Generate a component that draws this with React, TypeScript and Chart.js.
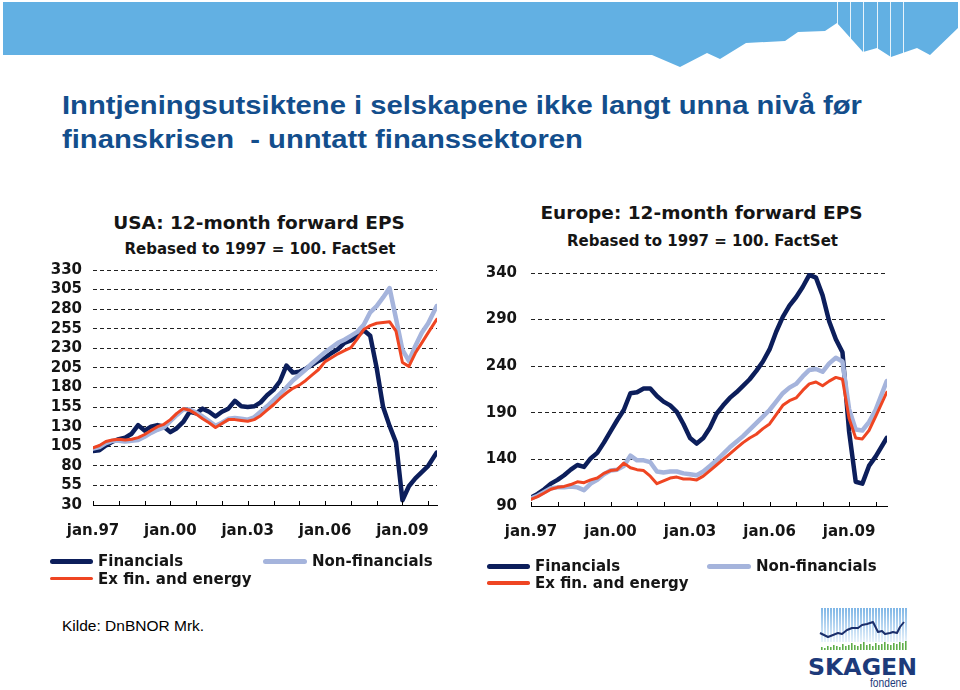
import React, { useEffect, useRef } from 'react';
import { Chart, registerables } from 'chart.js';

Chart.register(...registerables);

// ---------- DATA ----------
const DATES_US = [1997, 1997.25, 1997.5, 1997.75, 1998, 1998.25, 1998.5, 1998.75, 1999, 1999.25, 1999.5, 1999.75, 2000, 2000.25, 2000.5, 2000.75, 2001, 2001.25, 2001.5, 2001.75, 2002, 2002.25, 2002.5, 2002.75, 2003, 2003.25, 2003.5, 2003.75, 2004, 2004.25, 2004.5, 2004.75, 2005, 2005.25, 2005.5, 2005.75, 2006, 2006.25, 2006.5, 2006.75, 2007, 2007.25, 2007.5, 2007.75, 2008, 2008.25, 2008.5, 2008.75, 2009, 2009.25, 2009.5, 2009.75, 2010, 2010.33];
const DATES_EU = [1997, 1997.25, 1997.5, 1997.75, 1998, 1998.25, 1998.5, 1998.75, 1999, 1999.25, 1999.5, 1999.75, 2000, 2000.25, 2000.5, 2000.75, 2001, 2001.25, 2001.5, 2001.75, 2002, 2002.25, 2002.5, 2002.75, 2003, 2003.25, 2003.5, 2003.75, 2004, 2004.25, 2004.5, 2004.75, 2005, 2005.25, 2005.5, 2005.75, 2006, 2006.25, 2006.5, 2006.75, 2007, 2007.25, 2007.5, 2007.75, 2008, 2008.25, 2008.5, 2008.75, 2009, 2009.25, 2009.5, 2009.75, 2010, 2010.42];

const US_FIN = [
  99, 100, 106, 111,
  114, 116, 121, 132,
  125, 130, 132, 130,
  123, 128, 136, 149,
  147, 153, 149, 143,
  149, 153, 163, 156,
  155, 156, 161, 170,
  177, 188, 208, 199,
  200, 204, 209, 214,
  218, 224, 229, 237,
  240, 246, 253, 246,
  205, 155, 131, 110,
  36, 54, 64, 72,
  80, 97,
];
const US_NONFIN = [
  102, 104, 109, 112,
  112, 111, 112, 113,
  117, 122, 126, 129,
  137, 145, 152, 152,
  148, 143, 137, 131,
  135, 140, 141, 140,
  139, 142, 149, 156,
  164, 172, 180, 189,
  196, 203, 211, 218,
  225, 231, 237, 241,
  246, 251, 260, 276,
  284, 295, 307, 268,
  228, 214, 233, 250,
  262, 284,
];
const US_EXFIN = [
  103, 106, 111, 113,
  114, 113, 114, 116,
  120, 125, 130, 133,
  139, 147, 153, 151,
  146, 140, 135, 129,
  134, 139, 139, 138,
  137, 139, 144, 151,
  158, 166, 173, 179,
  183, 189, 196, 203,
  213, 218, 223, 227,
  231, 242, 254, 259,
  262, 263, 264, 252,
  212, 207, 224, 237,
  250, 267,
];

const EU_FIN = [
  99, 103, 108, 114,
  118, 123, 129, 134,
  132, 141, 147, 158,
  170, 182, 193, 211,
  212, 216, 216, 208,
  202, 198, 191, 178,
  163, 157, 163, 174,
  189, 198, 206, 212,
  219, 226, 235, 245,
  258, 277, 293, 305,
  314, 325, 338, 335,
  316, 288, 269, 255,
  170, 116, 114, 133,
  143, 163,
];
const EU_NONFIN = [
  98, 101, 105, 109,
  110, 110, 111, 110,
  107, 114, 118, 124,
  128, 129, 133, 144,
  139, 139, 137, 127,
  126, 127, 127, 125,
  124, 123, 127, 133,
  139, 146, 153, 159,
  165, 172, 179, 186,
  193, 202, 211, 217,
  221, 229, 236, 237,
  234, 243, 249, 245,
  194, 172, 171, 180,
  193, 224,
];
const EU_EXFIN = [
  97, 100, 104, 108,
  110, 111, 113, 116,
  115, 118, 120, 125,
  128, 129, 136, 131,
  129, 128, 122, 114,
  117, 120, 121, 119,
  119, 118, 122, 128,
  134, 140, 146, 152,
  158, 163, 167, 173,
  178, 188, 198, 203,
  206, 214, 221, 223,
  219, 224, 228, 226,
  184, 163, 162, 171,
  186, 212,
];

const YEAR_TICKS = [1997, 1998, 1999, 2000, 2001, 2002, 2003, 2004, 2005, 2006, 2007, 2008, 2009, 2010];
const LABEL_YEARS = [1997, 2000, 2003, 2006, 2009];
const LABEL_TEXT = ['jan.97', 'jan.00', 'jan.03', 'jan.06', 'jan.09'];
const US_Y_TICKS = [30, 55, 80, 105, 130, 155, 180, 205, 230, 255, 280, 305, 330];
const EU_Y_TICKS = [90, 140, 190, 240, 290, 340];
const SERIES_NAMES = ['Financials', 'Non-financials', 'Ex fin. and energy'];

const COL_FIN = '#0c1e5b';
const COL_NONFIN = '#a5b4dc';
const COL_EXFIN = '#ef4522';
const TEXT_COL = '#151515';
const FONT = "'DejaVu Sans', sans-serif";

// ---------- PLUGIN: inside tick marks on x axis ----------
const insideTicks = {
  id: 'insideTicks',
  afterDraw(chart: any) {
    const xs = chart.scales.x;
    const ctx = chart.ctx;
    const bottom = chart.chartArea.bottom;
    ctx.save();
    ctx.strokeStyle = '#000';
    ctx.lineWidth = 1;
    xs.ticks.forEach((t: any) => {
      const px = Math.round(xs.getPixelForValue(t.value)) + 0.5;
      ctx.beginPath();
      ctx.moveTo(px, bottom);
      ctx.lineTo(px, bottom - 4);
      ctx.stroke();
    });
    ctx.restore();
  },
};

type Spec = {
  dates: number[];
  fin: number[];
  nonfin: number[];
  exfin: number[];
  xMax: number;
  yMin: number;
  yMax: number;
  yTicks: number[];
  left: number;
  top: number;
  width: number;
  height: number;
  padTop: number;
  yAxisWidth: number;
  yTickPad: number;
  padRight: number;
};

function EpsChart({ spec }: { spec: Spec }) {
  const ref = useRef<HTMLCanvasElement | null>(null);
  useEffect(() => {
    if (!ref.current) return;
    const toPts = (vals: number[]) => spec.dates.map((d, i) => ({ x: d, y: vals[i] }));
    const chart = new Chart(ref.current, {
      type: 'line',
      data: {
        datasets: [
          { label: SERIES_NAMES[0], data: toPts(spec.fin), borderColor: COL_FIN, borderWidth: 4.5, order: 2 },
          { label: SERIES_NAMES[1], data: toPts(spec.nonfin), borderColor: COL_NONFIN, borderWidth: 4.5, order: 1 },
          { label: SERIES_NAMES[2], data: toPts(spec.exfin), borderColor: COL_EXFIN, borderWidth: 3, order: 0 },
        ],
      },
      options: {
        animation: false,
        responsive: false,
        maintainAspectRatio: false,
        elements: {
          point: { radius: 0, hoverRadius: 0 },
          line: { tension: 0, borderJoinStyle: 'round', borderCapStyle: 'round', fill: false },
        },
        layout: { padding: { left: 7, right: spec.padRight, top: spec.padTop, bottom: 3 } },
        plugins: {
          legend: { display: false },
          tooltip: { enabled: false },
          title: { display: false },
        },
        scales: {
          x: {
            type: 'linear',
            min: 1997,
            max: spec.xMax,
            grid: { display: false, drawTicks: false },
            border: { display: true, color: '#000', width: 1 },
            afterBuildTicks: (s: any) => {
              s.ticks = YEAR_TICKS.map((v) => ({ value: v }));
            },
            ticks: {
              autoSkip: false,
              maxRotation: 0,
              minRotation: 0,
              padding: 17,
              color: TEXT_COL,
              font: { family: FONT, size: 15, weight: 'bold' },
              callback: (v: any) => {
                const idx = LABEL_YEARS.indexOf(Math.round(Number(v)));
                return idx >= 0 && Math.abs(Number(v) - LABEL_YEARS[idx]) < 0.01 ? LABEL_TEXT[idx] : '';
              },
            },
          },
          y: {
            type: 'linear',
            min: spec.yMin,
            max: spec.yMax,
            afterBuildTicks: (s: any) => {
              s.ticks = spec.yTicks.map((v) => ({ value: v }));
            },
            afterFit: (s: any) => {
              s.width = spec.yAxisWidth;
            },
            grid: { color: '#222222', lineWidth: 1, drawTicks: false },
            border: { display: false, dash: [4, 3] },
            ticks: {
              autoSkip: false,
              padding: spec.yTickPad,
              color: TEXT_COL,
              font: { family: FONT, size: 15, weight: 'bold' },
            },
          },
        },
      },
      plugins: [insideTicks],
    } as any);
    return () => chart.destroy();
  }, [spec]);
  return (
    <canvas
      ref={ref}
      width={spec.width}
      height={spec.height}
      style={{ position: 'absolute', left: spec.left, top: spec.top, width: spec.width, height: spec.height }}
    />
  );
}

// chart area: USA x 93..437, y 267.3..505 ; Europe x 531..887, y 271.7..506
const US_SPEC: Spec = {
  dates: DATES_US,
  fin: US_FIN,
  nonfin: US_NONFIN,
  exfin: US_EXFIN,
  xMax: 2010.34,
  yMin: 30,
  yMax: 330,
  yTicks: US_Y_TICKS,
  left: 44,
  top: 250,
  width: 430,
  height: 310,
  padTop: 17.3,
  yAxisWidth: 42,
  yTickPad: 11,
  padRight: 37,
};

const EU_SPEC: Spec = {
  dates: DATES_EU,
  fin: EU_FIN,
  nonfin: EU_NONFIN,
  exfin: EU_EXFIN,
  xMax: 2010.43,
  yMin: 90,
  yMax: 340,
  yTicks: EU_Y_TICKS,
  left: 480,
  top: 250,
  width: 442,
  height: 311,
  padTop: 21.7,
  yAxisWidth: 44,
  yTickPad: 14,
  padRight: 35,
};

function CenterText({ cx, cy, size, lh, text }: { cx: number; cy: number; size: number; lh: number; text: string }) {
  return (
    <div
      style={{
        position: 'absolute',
        left: cx - 250,
        width: 500,
        top: cy - lh / 2,
        lineHeight: lh + 'px',
        textAlign: 'center',
        fontFamily: FONT,
        fontWeight: 'bold',
        fontSize: size,
        color: TEXT_COL,
        whiteSpace: 'pre',
      }}
    >
      {text}
    </div>
  );
}

function LegendItem({ x, y, color, thick, text, textX }: { x: number; y: number; color: string; thick: number; text: string; textX: number }) {
  return (
    <>
      <div
        style={{
          position: 'absolute',
          left: x,
          top: y - thick / 2,
          width: textX - x - 5,
          height: thick,
          background: color,
          borderRadius: thick / 2,
        }}
      />
      <div
        style={{
          position: 'absolute',
          left: textX,
          top: y - 9,
          lineHeight: '18px',
          fontFamily: FONT,
          fontWeight: 'bold',
          fontSize: 15,
          color: TEXT_COL,
          whiteSpace: 'pre',
        }}
      >
        {text}
      </div>
    </>
  );
}

function Legend({ x1, x2, t1, t2, y1, y2 }: { x1: number; x2: number; t1: number; t2: number; y1: number; y2: number }) {
  return (
    <>
      <LegendItem x={x1} y={y1} color={COL_FIN} thick={5} text={SERIES_NAMES[0]} textX={t1} />
      <LegendItem x={x2} y={y1} color={COL_NONFIN} thick={5} text={SERIES_NAMES[1]} textX={t2} />
      <LegendItem x={x1} y={y2} color={COL_EXFIN} thick={3.5} text={SERIES_NAMES[2]} textX={t1} />
    </>
  );
}

function Banner() {
  const pts = [
    [3, 2], [958, 2], [958, 28], [930, 55], [917, 48], [891, 57], [877, 48], [863, 52], [837, 23],
    [825, 31], [798, 32], [785, 41], [746, 43], [720, 59], [707, 53], [680, 67], [652, 55], [3, 55],
  ];
  const stripes = [837, 850, 863, 877, 890, 903];
  return (
    <svg style={{ position: 'absolute', left: 0, top: 0 }} width={960} height={80} viewBox="0 0 960 80">
      <polygon points={pts.map((p) => p.join(',')).join(' ')} fill="#62b0e3" />
      {stripes.map((x) => (
        <line key={x} x1={x + 0.5} y1={2} x2={x + 0.5} y2={60} stroke="#ffffff" strokeWidth={1} opacity={0.85} />
      ))}
    </svg>
  );
}

function Logo() {
  const stripeXs: number[] = [];
  for (let x = 821; x <= 905; x += 3) stripeXs.push(x);
  const barH = [3, 2, 4, 3, 5, 4, 3, 6, 4, 5, 7, 5, 4, 6, 8, 5, 6, 4, 7, 5, 6, 8, 6, 5, 7, 6, 8, 7, 9];
  const linePts = [
    [820, 633], [828, 637], [833, 635], [838, 633], [842, 634], [847, 630], [852, 628], [858, 628], [862, 625],
    [867, 624], [873, 622], [878, 632], [882, 631], [885, 634], [890, 633], [893, 632], [897, 633], [900, 627], [904, 622],
  ];
  return (
    <svg style={{ position: 'absolute', left: 800, top: 600 }} width={140} height={90} viewBox="800 600 140 90">
      <defs>
        <linearGradient id="lg" x1="0" y1="0" x2="0" y2="1">
          <stop offset="0" stopColor="#7fb6e6" />
          <stop offset="1" stopColor="#e8f2fb" />
        </linearGradient>
      </defs>
      {stripeXs.map((x) => (
        <rect key={x} x={x} y={608} width={2} height={34} fill="url(#lg)" />
      ))}
      {stripeXs.map((x, i) => (
        <rect key={'g' + x} x={x} y={650 - barH[i % barH.length]} width={1.6} height={barH[i % barH.length]} fill="#5fae4a" />
      ))}
      <polyline points={linePts.map((p) => p.join(',')).join(' ')} fill="none" stroke="#1b2f6b" strokeWidth={2} strokeLinejoin="round" />
      <text x={808} y={675} textLength={109} lengthAdjust="spacingAndGlyphs" fontFamily={FONT} fontWeight="bold" fontSize={23} fill="#1d3a7a">
        SKAGEN
      </text>
      <text x={870} y={687} textLength={37} lengthAdjust="spacingAndGlyphs" fontFamily="'Liberation Sans', Arial, sans-serif" fontSize={13} fill="#1d3a7a">
        fondene
      </text>
    </svg>
  );
}

export default function App() {
  return (
    <div style={{ position: 'fixed', left: 0, top: 0, width: 960, height: 690, background: '#ffffff', overflow: 'hidden' }}>
      <Banner />
      <div
        style={{
          position: 'absolute',
          left: 62,
          top: 87.6,
          fontFamily: "'Liberation Sans', Arial, sans-serif",
          fontWeight: 'bold',
          fontSize: 25,
          lineHeight: '34px',
          color: '#134e8c',
          whiteSpace: 'pre',
          transform: 'scaleX(1.168)',
          transformOrigin: 'left top',
        }}
      >
        {'Inntjeningsutsiktene i selskapene ikke langt unna nivå før\nfinanskrisen  - unntatt finanssektoren'}
      </div>
      <CenterText cx={259} cy={223.3} size={18.5} lh={22} text="USA: 12-month forward EPS" />
      <CenterText cx={260} cy={249.3} size={15} lh={18} text="Rebased to 1997 = 100. FactSet" />
      <CenterText cx={701.5} cy={213.3} size={18.5} lh={22} text="Europe: 12-month forward EPS" />
      <CenterText cx={702.5} cy={241.2} size={15} lh={18} text="Rebased to 1997 = 100. FactSet" />
      <EpsChart spec={US_SPEC} />
      <EpsChart spec={EU_SPEC} />
      <Legend x1={50} x2={263} t1={98} t2={312} y1={561} y2={578.5} />
      <Legend x1={487} x2={707} t1={535} t2={756} y1={566} y2={583} />
      <div
        style={{
          position: 'absolute',
          left: 62,
          top: 616.6,
          fontFamily: "'Liberation Sans', Arial, sans-serif",
          fontSize: 15.5,
          lineHeight: '18px',
          color: '#000',
          whiteSpace: 'pre',
        }}
      >
        Kilde: DnBNOR Mrk.
      </div>
      <Logo />
    </div>
  );
}
